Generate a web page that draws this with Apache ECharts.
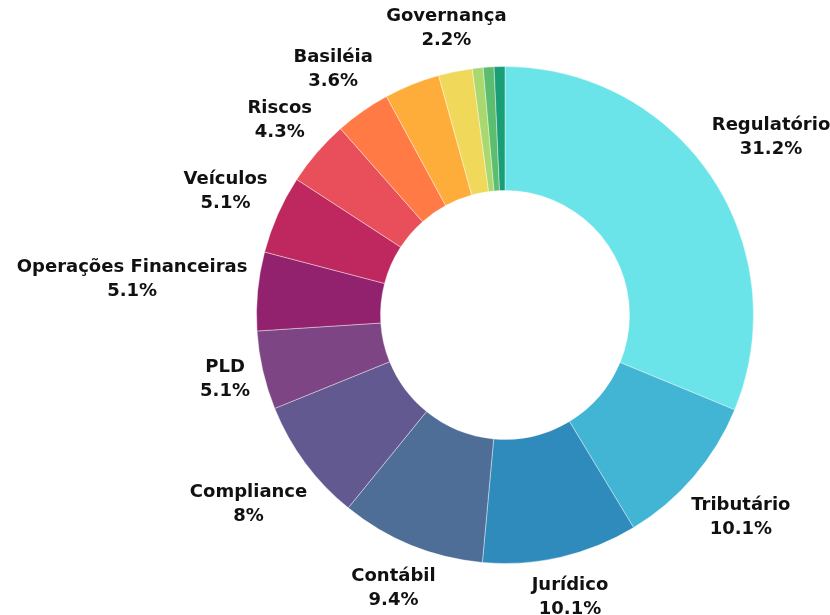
<!DOCTYPE html>
<html>
<head>
<meta charset="utf-8">
<script src="https://cdn.jsdelivr.net/npm/echarts@6/dist/echarts.min.js"></script>
<style>
  html, body { margin: 0; padding: 0; background: #fff; }
  #chart { width: 830px; height: 615px; }
</style>
</head>
<body>
<div id="chart"></div>
<script>
// data (percent shares, clockwise from 12 o'clock)
const names = ['Regulatório', 'Tributário', 'Jurídico', 'Contábil', 'Compliance', 'PLD',
  'Operações Financeiras', 'Veículos', 'Riscos', 'Basiléia', 'Outros', 'Governança',
  'Outros 2', 'Outros 3', 'Outros 4'];
const values = [31.2, 10.1, 10.1, 9.4, 8, 5.1, 5.1, 5.1, 4.3, 3.6, 3.6, 2.2, 0.7, 0.7, 0.7];
const showLabel = [true, true, true, true, true, true, true, true, true, true, false, true, false, false, false];
const colors = ['#6ae4e8', '#42b5d5', '#2e8bbb', '#4e6e98', '#625990', '#7e4585', '#93226e',
  '#bf285f', '#e84f5a', '#ff7a45', '#ffad3a', '#f0d95a', '#a9d86e', '#5dbd6e', '#1a9e76'];

// layout
const CX = 505, CY = 315, INNER = 124.5, OUTER = 248.5, GAP = 9;
const total = values.reduce((s, v) => s + v, 0);

const chart = echarts.init(document.getElementById('chart'));

chart.setOption({
  animation: false,
  series: [{
    type: 'pie',
    center: [CX, CY],
    radius: [INNER, OUTER],
    startAngle: 90,
    clockwise: true,
    itemStyle: { borderColor: '#fff', borderWidth: 0.4 },
    label: {
      position: 'inside',
      formatter: '{b}\n{c}%',
      color: '#111',
      fontFamily: 'DejaVu Sans',
      fontWeight: 'bold',
      fontSize: 18,
      lineHeight: 24,
      align: 'center',
      overflow: 'none'
    },
    labelLine: { show: false },
    emphasis: { disabled: true },
    // put each label just outside the ring, centred on its slice's mid angle
    labelLayout: function (params) {
      const i = params.dataIndex;
      const before = values.slice(0, i).reduce((s, v) => s + v, 0);
      const mid = (before + values[i] / 2) / total * 2 * Math.PI;
      const ux = Math.sin(mid), uy = -Math.cos(mid);
      const a = params.labelRect.width / 2, b = params.labelRect.height / 2;
      const d = OUTER + GAP + a * Math.abs(ux) + b * Math.abs(uy);
      return { x: CX + d * ux, y: CY + d * uy, align: 'center', verticalAlign: 'middle' };
    },
    data: names.map((n, i) => ({
      name: n,
      value: values[i],
      itemStyle: { color: colors[i] },
      label: { show: showLabel[i] }
    }))
  }]
});
</script>
</body>
</html>
